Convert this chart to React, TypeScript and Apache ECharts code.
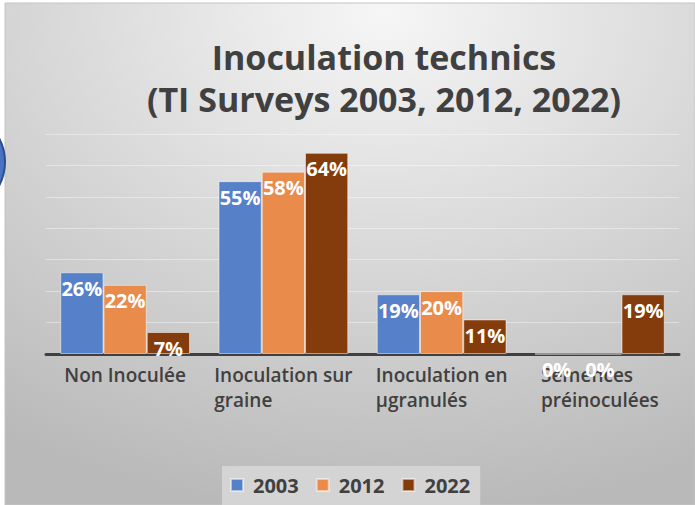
import React, { useEffect, useRef } from "react";
import * as echarts from "echarts";

const categories = ["Non Inoculée", "Inoculation sur\ngraine", "Inoculation en\nµgranulés", "Semences\npréinoculées"];
const seriesNames = ["2003", "2012", "2022"];
const values2003 = [26, 55, 19, 0];
const values2012 = [22, 58, 20, 0];
const values2022 = [7, 64, 11, 19];
const colors = ["#5680c8", "#e98b4b", "#843c0c"];
const titleLines = ["Inoculation technics", "(TI Surveys 2003, 2012, 2022)"];

const FONT = "'Open Sans', Lato, sans-serif";

export default function App() {
  const ref = useRef<HTMLDivElement>(null);
  useEffect(() => {
    if (!ref.current) return;
    const chart = echarts.init(ref.current, undefined, { renderer: "svg" });
    const allValues = [values2003, values2012, values2022];
    chart.setOption({
      animation: false,
      textStyle: { fontFamily: FONT },
      graphic: [
        {
          type: "rect",
          z: -10,
          shape: { x: 5, y: 3, width: 690, height: 502 },
          style: {
            fill: new echarts.graphic.RadialGradient(0.55, 0.02, 1.0, [
              { offset: 0, color: "#f6f6f6" },
              { offset: 1, color: "#b9b9b9" },
            ]),
            stroke: "#c4c4c4",
            lineWidth: 1,
          },
        },
        ...titleLines.map((t, i) => ({
          type: "text",
          x: 384,
          y: 37 + i * 42,
          z: 10,
          style: {
            text: t,
            textAlign: "center",
            fill: "#404040",
            fontFamily: FONT,
            fontSize: 34,
            fontWeight: "bold",
            lineHeight: 40,
          },
        })),
        {
          type: "circle",
          z: 10,
          shape: { cx: -46, cy: 162, r: 51 },
          style: { fill: "#4a72c0", stroke: "#2a4f8f", lineWidth: 2 },
        },
      ],
      legend: {
        data: seriesNames,
        left: 222,
        top: 466,
        backgroundColor: "#d4d4d4",
        padding: [9, 10, 12, 8],
        itemWidth: 12,
        itemHeight: 12,
        itemGap: 17,
        icon: "rect",
        textStyle: {
          color: "#404040",
          fontSize: 20,
          fontWeight: "bold",
          fontFamily: FONT,
          padding: [0, 0, 0, 5],
        },
      },
      grid: { left: 46, right: 16, top: 134, bottom: 151 },
      xAxis: {
        type: "category",
        data: categories,
        axisTick: { show: false },
        axisLine: { lineStyle: { color: "#404040", width: 3 } },
        axisLabel: {
          interval: 0,
          margin: 8,
          formatter: (v: string) =>
            v
              .split("\n")
              .map((l) => `{a|${l}}`)
              .join("\n"),
          rich: {
            a: {
              align: "left",
              fontSize: 19,
              fontWeight: 600,
              color: "#404040",
              fontFamily: FONT,
              lineHeight: 25,
            },
          },
        },
      },
      yAxis: {
        type: "value",
        min: 0,
        max: 70,
        interval: 10,
        axisLabel: { show: false },
        axisLine: { show: false },
        axisTick: { show: false },
        splitLine: { lineStyle: { color: "rgba(255,255,255,0.4)", width: 1 } },
      },
      series: seriesNames.map((name, i) => ({
        name,
        type: "bar",
        data: allValues[i],
        barGap: "0%",
        barCategoryGap: "18%",
        itemStyle: {
          color: colors[i],
          borderColor: "rgba(255,255,255,0.5)",
          borderWidth: 1,
        },
        label: {
          show: true,
          position: "insideTop",
          distance: 6,
          color: "#ffffff",
          fontSize: 20,
          fontWeight: "bold",
          fontFamily: FONT,
          formatter: "{c}%",
        },
      })),
    });
    return () => chart.dispose();
  }, []);
  return (
    <div
      ref={ref}
      style={{ position: "absolute", left: 0, top: 0, width: 695, height: 505, background: "#ffffff" }}
    />
  );
}
